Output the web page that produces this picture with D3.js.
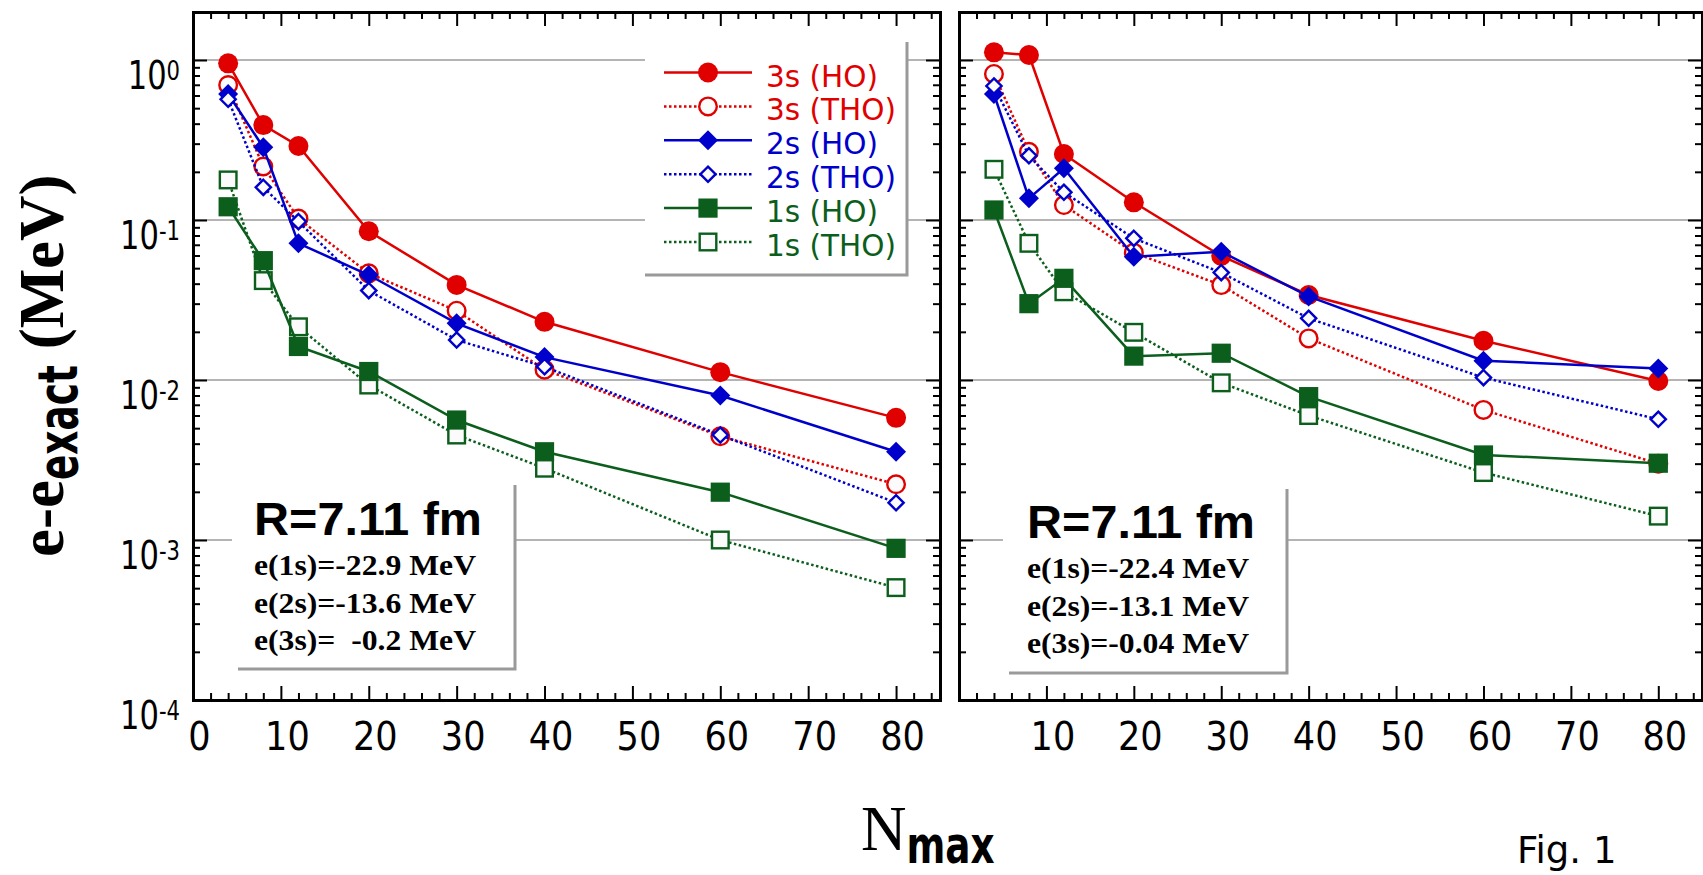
<!DOCTYPE html>
<html>
<head>
<meta charset="utf-8">
<script src="https://cdn.jsdelivr.net/npm/d3@7"></script>
<style>
  body { margin: 0; background: #fff; }
  svg { display: block; }
  text { white-space: pre; }
</style>
</head>
<body>
<div id="chart"></div>
<script>

// ---- data ----
var nmax = [4, 8, 12, 20, 30, 40, 60, 80];

// left panel
var left3sHO  = [0.953, 0.392, 0.290, 0.0850, 0.0393, 0.0231, 0.0112, 0.0058];
var left3sTHO = [0.698, 0.216, 0.102, 0.0464, 0.0271, 0.0116, 0.00445, 0.00223];
var left2sHO  = [0.613, 0.285, 0.0715, 0.0453, 0.0226, 0.0139, 0.0080, 0.00356];
var left2sTHO = [0.568, 0.160, 0.0977, 0.0362, 0.0178, 0.0121, 0.00453, 0.00171];
var left1sHO  = [0.121, 0.0557, 0.0162, 0.0113, 0.00562, 0.00356, 0.00199, 0.000887];
var left1sTHO = [0.178, 0.0418, 0.0215, 0.0093, 0.00453, 0.00281, 0.00100, 0.000504];

// right panel
var right3sHO  = [1.117, 1.075, 0.2585, 0.129, 0.0596, 0.0340, 0.0176, 0.00986];
var right3sTHO = [0.818, 0.267, 0.124, 0.0625, 0.0392, 0.0182, 0.0065, 0.0030];
var right2sHO  = [0.613, 0.1366, 0.2104, 0.059, 0.0634, 0.0333, 0.0132, 0.0118];
var right2sTHO = [0.688, 0.2523, 0.149, 0.0768, 0.0469, 0.0243, 0.01035, 0.00568];
var right1sHO  = [0.1155, 0.030, 0.0432, 0.0141, 0.0147, 0.00787, 0.0034, 0.00302];
var right1sTHO = [0.2074, 0.0715, 0.0356, 0.01986, 0.0096, 0.0060, 0.00264, 0.00141];

var seriesNames = ["3s (HO)", "3s (THO)", "2s (HO)", "2s (THO)", "1s (HO)", "1s (THO)"];

// tick labels
var yDecades  = [1e-4, 1e-3, 1e-2, 1e-1, 1];
var yExponents = ["-4", "-3", "-2", "-1", "0"];
var xTicksLeft  = [0, 10, 20, 30, 40, 50, 60, 70, 80];
var xTicksRight = [10, 20, 30, 40, 50, 60, 70, 80];

var boxLeft  = ["R=7.11 fm", "e(1s)=-22.9 MeV", "e(2s)=-13.6 MeV", "e(3s)=  -0.2 MeV"];
var boxRight = ["R=7.11 fm", "e(1s)=-22.4 MeV", "e(2s)=-13.1 MeV", "e(3s)=-0.04 MeV"];

// ---- styles ----
var RED = "#e00000", BLUE = "#0000cc", GREEN = "#0b5e1c";
var NARROW = "'Liberation Sans Narrow', 'DejaVu Sans Condensed', 'Liberation Sans', sans-serif";
var SERIF = "'Liberation Serif', 'Times New Roman', serif";

// per series: color, dotted?, marker type (legend order)
var styles = {
  "3s (HO)":  {color: RED,   dash: null,      marker: "circle",   open: false},
  "3s (THO)": {color: RED,   dash: "2.5,2.5", marker: "circle",   open: true},
  "2s (HO)":  {color: BLUE,  dash: null,      marker: "diamond",  open: false},
  "2s (THO)": {color: BLUE,  dash: "2.5,2.5", marker: "diamond",  open: true},
  "1s (HO)":  {color: GREEN, dash: null,      marker: "square",   open: false},
  "1s (THO)": {color: GREEN, dash: "2.5,2.5", marker: "square",   open: true}
};
var drawOrder = ["3s (HO)", "3s (THO)", "2s (HO)", "2s (THO)", "1s (THO)", "1s (HO)"];

var W = 1703, H = 875;
var yTop = 12, yBottom = 700;

var svg = d3.select("#chart").append("svg")
    .attr("width", W)
    .attr("height", H);

var y = d3.scaleLog().domain([1e-4, Math.pow(10, 0.3)]).range([yBottom, yTop]);

function isDecade(v) {
  var l = Math.log10(v);
  return Math.abs(l - Math.round(l)) < 1e-9;
}

// draw one marker
function addMarker(g, type, open, color, cx, cy) {
  var el;
  if (type === "circle") {
    el = g.append("circle").attr("cx", cx).attr("cy", cy).attr("r", open ? 8.8 : 10);
  } else if (type === "diamond") {
    var s = open ? 7.6 : 10;
    el = g.append("path").attr("d", "M" + cx + "," + (cy - s) + "L" + (cx + s) + "," + cy +
        "L" + cx + "," + (cy + s) + "L" + (cx - s) + "," + cy + "Z");
  } else {
    var h = open ? 8.3 : 9.6;
    el = g.append("rect").attr("x", cx - h).attr("y", cy - h).attr("width", 2 * h).attr("height", 2 * h);
  }
  if (open) {
    el.attr("fill", "#fbfbfb").attr("stroke", color).attr("stroke-width", 2.4);
  } else {
    el.attr("fill", color);
  }
}

function drawPanel(p) {
  var g = svg.append("g");
  var x = d3.scaleLinear().domain([0, 85]).range([p.x0, p.x1]);

  // gridlines at decades
  g.append("g").selectAll("line")
      .data(yDecades.filter(function(d) { return d > 1e-4; }))
      .enter().append("line")
      .attr("x1", p.x0).attr("x2", p.x1)
      .attr("y1", function(d) { return y(d); })
      .attr("y2", function(d) { return y(d); })
      .attr("stroke", "#b4b4b4")
      .attr("stroke-width", 2);

  // annotation box
  var b = p.box;
  g.append("rect").attr("x", b.x).attr("y", b.y).attr("width", b.w).attr("height", b.h).attr("fill", "#fff");
  g.append("path")
      .attr("d", "M" + (b.x + b.w) + "," + b.y + "V" + (b.y + b.h) + "H" + (b.x + 6))
      .attr("fill", "none").attr("stroke", "#9a9a9a").attr("stroke-width", 3);
  var t = g.append("g").attr("fill", "#000");
  t.append("text").attr("x", b.tx).attr("y", b.ty)
      .attr("font-family", "'Liberation Sans', Arial, sans-serif")
      .attr("font-weight", "bold").attr("font-size", 47)
      .attr("textLength", 228).attr("lengthAdjust", "spacingAndGlyphs")
      .text(p.labels[0]);
  p.labels.slice(1).forEach(function(s, i) {
    t.append("text").attr("x", b.tx).attr("y", b.ty + 40 + i * 37.5)
        .attr("font-family", SERIF).attr("font-weight", "bold").attr("font-size", 29)
        .attr("textLength", 222).attr("lengthAdjust", "spacingAndGlyphs")
        .text(s);
  });

  // legend (left panel only)
  if (p.legend) {
    var L = p.legend;
    g.append("rect").attr("x", L.x).attr("y", L.y).attr("width", L.w).attr("height", L.h).attr("fill", "#fff");
    g.append("path")
        .attr("d", "M" + (L.x + L.w) + "," + L.y + "V" + (L.y + L.h) + "H" + L.x)
        .attr("fill", "none").attr("stroke", "#9a9a9a").attr("stroke-width", 3);
    seriesNames.forEach(function(name, i) {
      var st = styles[name];
      var ry = L.y + 30.5 + i * 33.9;
      g.append("line").attr("x1", L.x + 19).attr("x2", L.x + 107)
          .attr("y1", ry).attr("y2", ry)
          .attr("stroke", st.color).attr("stroke-width", 2.5)
          .attr("stroke-dasharray", st.dash);
      addMarker(g, st.marker, st.open, st.color, L.x + 63, ry);
      g.append("text").attr("x", L.x + 121).attr("y", ry + 14)
          .attr("font-family", "'DejaVu Sans', Verdana, sans-serif")
          .attr("font-size", 29.5).attr("fill", st.color)
          .text(name);
    });
  }

  // series
  var line = d3.line()
      .x(function(d, i) { return x(nmax[i]); })
      .y(function(d) { return y(d); });
  drawOrder.forEach(function(name) {
    var st = styles[name];
    var vals = p.data[name];
    g.append("path").datum(vals)
        .attr("d", line)
        .attr("fill", "none")
        .attr("stroke", st.color)
        .attr("stroke-width", 2.5)
        .attr("stroke-dasharray", st.dash);
    vals.forEach(function(v, i) {
      addMarker(g, st.marker, st.open, st.color, x(nmax[i]), y(v));
    });
  });

  // axes / frame
  var xMinor = d3.range(2, 85, 2).filter(function(v) { return v % 10 !== 0; });
  var xMajor = d3.range(0, 85, 10);
  var yMinor = y.ticks().filter(function(v) { return !isDecade(v); });

  var ax = g.append("g");
  ax.append("g").attr("transform", "translate(0," + yBottom + ")")
      .call(d3.axisBottom(x).tickValues(xMinor).tickSize(-7).tickSizeOuter(0).tickFormat(""));
  var bottom = ax.append("g").attr("transform", "translate(0," + yBottom + ")")
      .call(d3.axisBottom(x).tickValues(xMajor).tickSize(-14).tickSizeOuter(0).tickPadding(22)
        .tickFormat(function(d) { return p.xLabels.indexOf(d) >= 0 ? d : ""; }));
  bottom.selectAll("text").attr("x", 6);

  ax.append("g").attr("transform", "translate(0," + yTop + ")")
      .call(d3.axisTop(x).tickValues(xMinor).tickSize(-7).tickSizeOuter(0).tickFormat(""));
  ax.append("g").attr("transform", "translate(0," + yTop + ")")
      .call(d3.axisTop(x).tickValues(xMajor).tickSize(-14).tickSizeOuter(0).tickFormat(""));

  ax.append("g").attr("transform", "translate(" + p.x0 + ",0)")
      .call(d3.axisLeft(y).tickValues(yMinor).tickSize(-7).tickSizeOuter(0).tickFormat(""));
  var left = ax.append("g").attr("transform", "translate(" + p.x0 + ",0)")
      .call(d3.axisLeft(y).tickValues(yDecades).tickSize(-14).tickSizeOuter(0).tickPadding(13)
        .tickFormat(function() { return ""; }));

  ax.append("g").attr("transform", "translate(" + p.x1 + ",0)")
      .call(d3.axisRight(y).tickValues(yMinor).tickSize(-7).tickSizeOuter(0).tickFormat(""));
  ax.append("g").attr("transform", "translate(" + p.x1 + ",0)")
      .call(d3.axisRight(y).tickValues(yDecades).tickSize(-14).tickSizeOuter(0).tickFormat(""));

  ax.selectAll(".domain").attr("stroke", "#000").attr("stroke-width", 3).attr("stroke-linecap", "square");
  ax.selectAll(".tick line").attr("stroke", "#000").attr("stroke-width", 2);
  ax.selectAll("text").attr("font-family", NARROW).attr("font-size", 39).attr("fill", "#000");

  // 10^n labels, squeezed a bit like the original
  if (p.yLabels) {
    left.selectAll(".tick text").each(function(d) {
      var tx = d3.select(this)
          .attr("dy", 28)
          .attr("x", -13 / 0.87)
          .attr("transform", "scale(0.87,1)");
      tx.append("tspan").text("10");
      tx.append("tspan").attr("font-size", 27).attr("dy", -9)
          .text(yExponents[yDecades.indexOf(d)]);
    });
  }
}

drawPanel({
  x0: 193, x1: 940,
  yLabels: true,
  xLabels: xTicksLeft,
  labels: boxLeft,
  box: {x: 232, y: 485, w: 283, h: 184, tx: 254, ty: 535},
  legend: {x: 645, y: 42, w: 262, h: 233},
  data: {
    "3s (HO)": left3sHO, "3s (THO)": left3sTHO,
    "2s (HO)": left2sHO, "2s (THO)": left2sTHO,
    "1s (HO)": left1sHO, "1s (THO)": left1sTHO
  }
});

drawPanel({
  x0: 959, x1: 1702,
  yLabels: false,
  xLabels: xTicksRight,
  labels: boxRight,
  box: {x: 1003, y: 489, w: 284, h: 184, tx: 1027, ty: 538},
  data: {
    "3s (HO)": right3sHO, "3s (THO)": right3sTHO,
    "2s (HO)": right2sHO, "2s (THO)": right2sTHO,
    "1s (HO)": right1sHO, "1s (THO)": right1sTHO
  }
});

// axis titles
var yl = svg.append("text")
    .attr("transform", "translate(63,557) rotate(-90)")
    .attr("font-family", SERIF).attr("font-weight", "bold").attr("font-size", 63);
yl.append("tspan").text("e-e");
yl.append("tspan").attr("font-family", NARROW).attr("font-size", 55).attr("dy", 14)
    .attr("textLength", 115).attr("lengthAdjust", "spacingAndGlyphs").text("exact");
yl.append("tspan").attr("dy", -14).text(" (MeV)");

var xl = svg.append("text")
    .attr("x", 861).attr("y", 850)
    .attr("font-family", SERIF).attr("font-size", 63);
xl.append("tspan").text("N");
xl.append("tspan").attr("font-family", NARROW).attr("font-weight", "bold")
    .attr("font-size", 52).attr("dy", 13)
    .attr("textLength", 88).attr("lengthAdjust", "spacingAndGlyphs").text("max");

svg.append("text")
    .attr("x", 1517).attr("y", 863)
    .attr("font-family", "'DejaVu Sans', Verdana, sans-serif")
    .attr("font-size", 37)
    .text("Fig. 1");

</script>
</body>
</html>
